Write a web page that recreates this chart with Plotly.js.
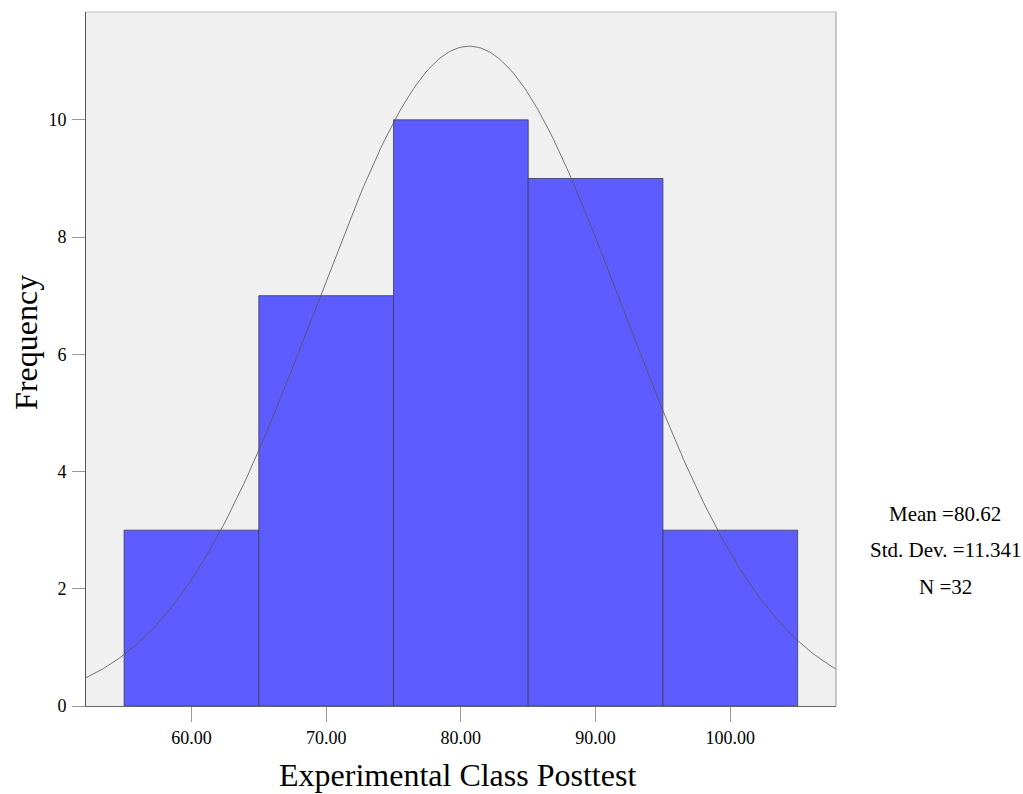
<!DOCTYPE html>
<html>
<head>
<meta charset="utf-8">
<script src="https://cdn.plot.ly/plotly-3.0.1.min.js"></script>
<style>html,body{margin:0;padding:0;background:#fff;}#chart{width:1023px;height:794px;}</style>
</head>
<body>
<div id="chart"></div>
<script>
// Histogram data
const binCenters = [60, 70, 80, 90, 100];
const frequencies = [3, 7, 10, 9, 3];
const binWidth = 10;
const tickValues = [60, 70, 80, 90, 100];
const tickLabels = ['60.00', '70.00', '80.00', '90.00', '100.00'];
// Summary statistics (shown on chart; define the normal curve)
const mean = 80.62;
const stdDev = 11.341;
const nObs = 32;

const xMin = 52.17, xMax = 107.85;
const curveX = [], curveY = [];
for (let i = 0; i <= 300; i++) {
  const x = xMin + (xMax - xMin) * i / 300;
  const z = (x - mean) / stdDev;
  curveX.push(x);
  curveY.push(nObs * binWidth / (stdDev * Math.sqrt(2 * Math.PI)) * Math.exp(-0.5 * z * z));
}

const serif = 'Liberation Serif, Times New Roman, serif';

const traces = [
  {
    type: 'bar', x: binCenters, y: frequencies, width: binWidth,
    marker: {color: '#5c5cff', line: {color: '#3a3a5a', width: 0.8}},
    hoverinfo: 'x+y', showlegend: false
  },
  {
    type: 'scatter', mode: 'lines', x: curveX, y: curveY,
    line: {color: '#555555', width: 0.8}, hoverinfo: 'skip', showlegend: false
  }
];

const L = 86.3, R = 835.7, T = 12, B = 706.5, W = 1023, H = 794;
const py = v => (B - v) / (B - T);
const px = v => (v - L) / (R - L);

const layout = {
  width: W, height: H,
  margin: {l: L, r: W - R, t: T, b: H - B, pad: 0},
  paper_bgcolor: '#ffffff',
  plot_bgcolor: '#f0f0f0',
  bargap: 0,
  font: {family: serif, color: '#000', size: 18},
  xaxis: {
    range: [xMin, xMax], tickvals: tickValues, ticktext: tickLabels,
    ticks: 'outside', ticklen: 15, tickcolor: '#999', tickwidth: 1,
    showgrid: false, zeroline: false, showline: true, linecolor: '#666', linewidth: 1,
    tickfont: {family: serif, size: 18}
  },
  yaxis: {
    range: [0, 11.84], tickvals: [0, 2, 4, 6, 8, 10],
    ticks: 'outside', ticklen: 13, tickcolor: '#999', tickwidth: 1,
    ticklabelstandoff: 2,
    showgrid: false, zeroline: false, showline: true, linecolor: '#555', linewidth: 1,
    tickfont: {family: serif, size: 18}
  },
  shapes: [
    {type: 'line', xref: 'paper', yref: 'paper', x0: 0, x1: 1, y0: 1, y1: 1, line: {color: '#bbbbbb', width: 1}},
    {type: 'line', xref: 'paper', yref: 'paper', x0: 1, x1: 1, y0: 0, y1: 1, line: {color: '#999999', width: 1}}
  ],
  annotations: [
    {text: 'Experimental Class Posttest', xref: 'paper', yref: 'paper', x: px(457.5), y: py(776), xanchor: 'center', yanchor: 'middle', showarrow: false, font: {family: serif, size: 32}},
    {text: 'Frequency', textangle: -90, xref: 'paper', yref: 'paper', x: px(27), y: py(342.5), xanchor: 'center', yanchor: 'middle', showarrow: false, font: {family: serif, size: 32}},
    {text: 'Mean =80.62', xref: 'paper', yref: 'paper', x: px(945), y: py(514), xanchor: 'center', yanchor: 'middle', showarrow: false, font: {family: serif, size: 21}},
    {text: 'Std. Dev. =11.341', xref: 'paper', yref: 'paper', x: px(945), y: py(550), xanchor: 'center', yanchor: 'middle', showarrow: false, font: {family: serif, size: 21}},
    {text: 'N =32', xref: 'paper', yref: 'paper', x: px(945), y: py(587), xanchor: 'center', yanchor: 'middle', showarrow: false, font: {family: serif, size: 21}}
  ]
};

Plotly.newPlot('chart', traces, layout, {displayModeBar: false, staticPlot: true});
</script>
</body>
</html>
